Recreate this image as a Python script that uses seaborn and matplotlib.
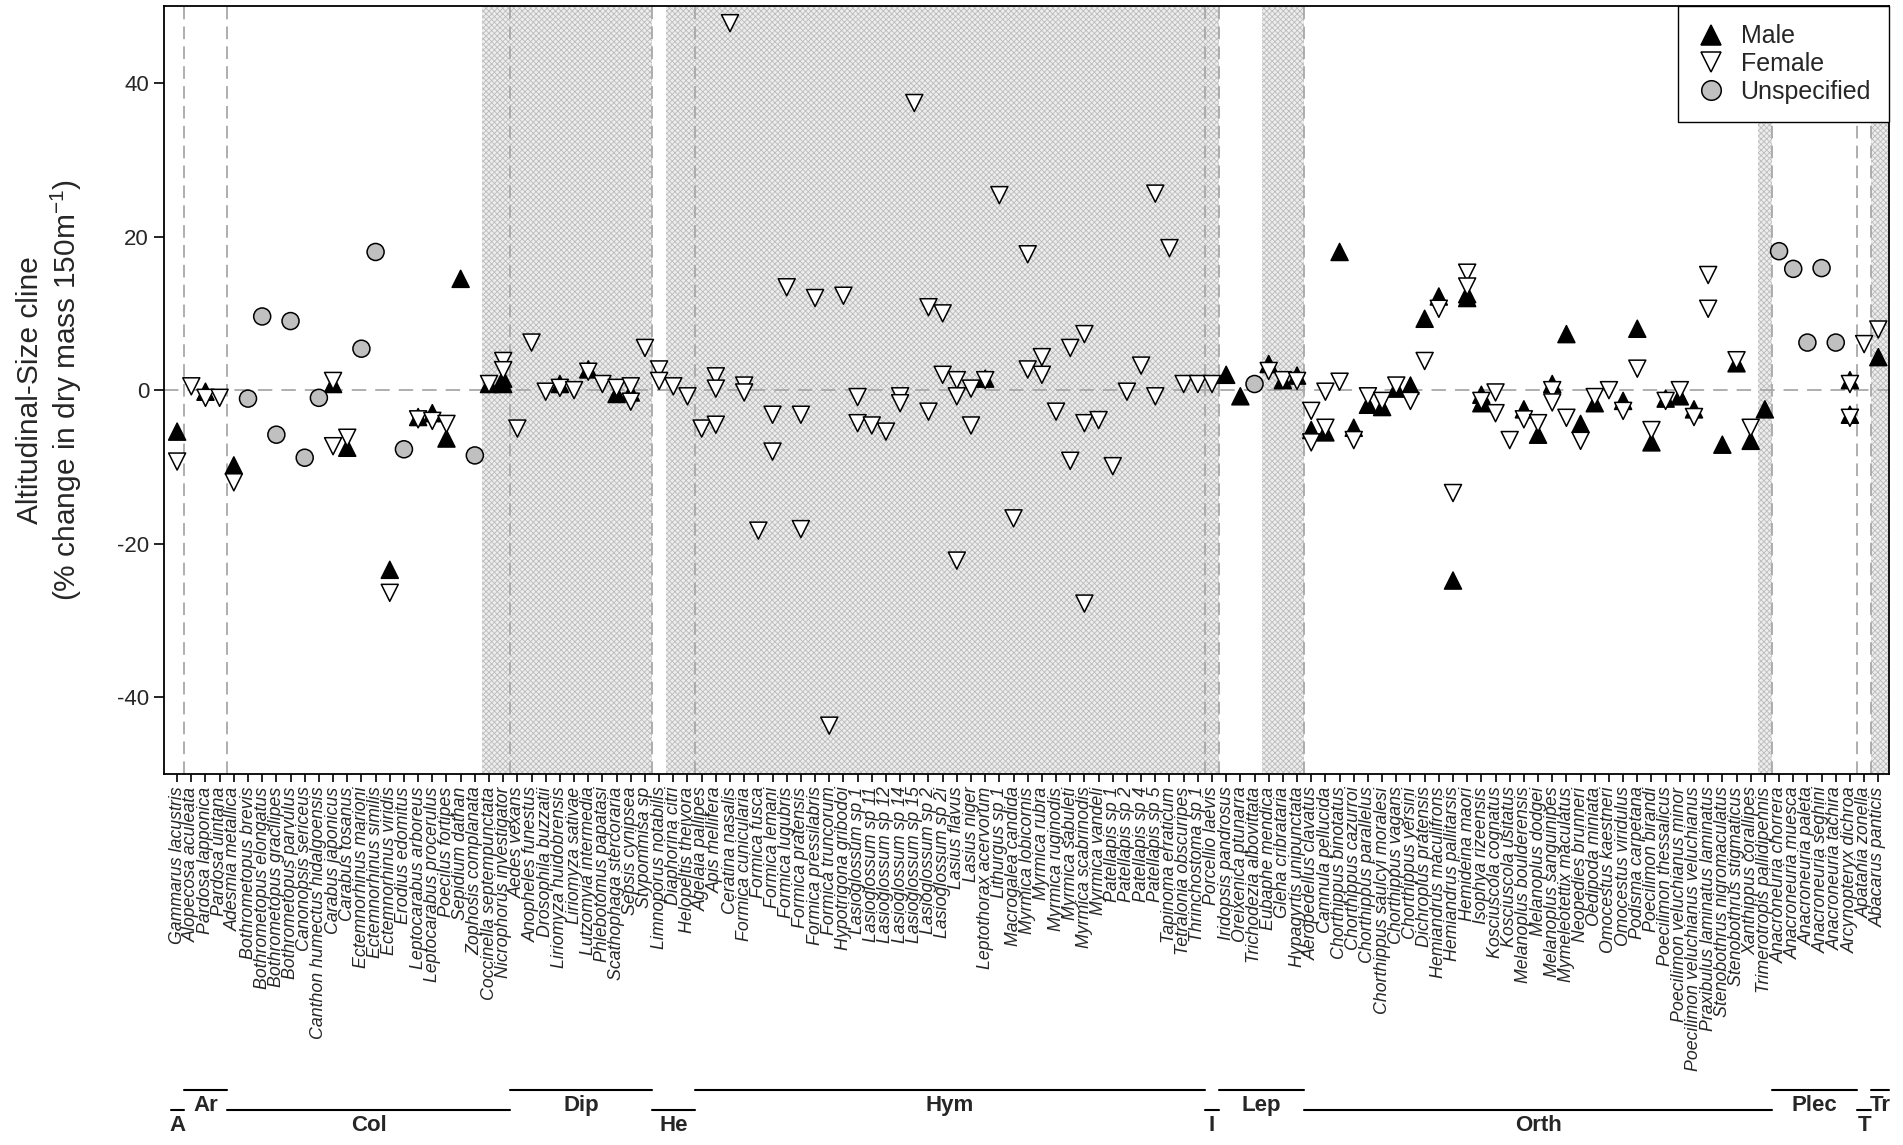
import numpy as np
import pandas as pd
import seaborn as sns
import matplotlib.pyplot as plt
from matplotlib import transforms

# species in plotting order
species = [
    "Gammarus lacustris",
    "Alopecosa aculeata", "Pardosa lapponica", "Pardosa uintana",
    "Adesmia metallica", "Bothrometopus brevis", "Bothrometopus elongatus",
    "Bothrometopus gracilipes", "Bothrometopus parvulus", "Canonopsis sericeus",
    "Canthon humectus hidalgoensis", "Carabus japonicus", "Carabus tosanus",
    "Ectemnorhinus marioni", "Ectemnorhinus similis", "Ectemnorhinus viridis",
    "Erodius edomitus", "Leptocarabus arboreus", "Leptocarabus procerulus",
    "Poecilus fortipes", "Sepidium dathan", "Zophosis complanata",
    "Coccinella septempunctata", "Nicrophorus investigator",
    "Aedes vexans", "Anopheles funestus", "Drosophila buzzatii",
    "Liriomyza huidobrensis", "Liriomyza sativae", "Lutzomyia intermedia",
    "Phlebotomus papatasi", "Scathophaga stercoraria", "Sepsis cynipsea",
    "Stypommisa sp",
    "Limnoporus notabilis", "Diaphorina citri", "Helopeltis theivora",
    "Agelaia pallipes", "Apis mellifera", "Ceratina nasalis",
    "Formica cunicularia", "Formica fusca", "Formica lemani", "Formica lugubris",
    "Formica pratensis", "Formica pressilabris", "Formica truncorum",
    "Hypotrigona gribodoi", "Lasioglossum sp 1", "Lasioglossum sp 11",
    "Lasioglossum sp 12", "Lasioglossum sp 14", "Lasioglossum sp 15",
    "Lasioglossum sp 2", "Lasioglossum sp 2i", "Lasius flavus", "Lasius niger",
    "Leptothorax acervorum", "Lithurgus sp 1", "Macrogalea candida",
    "Myrmica lobicornis", "Myrmica rubra", "Myrmica ruginodis",
    "Myrmica sabuleti", "Myrmica scabrinodis", "Myrmica vandeli",
    "Patellapis sp 1", "Patellapis sp 2", "Patellapis sp 4", "Patellapis sp 5",
    "Tapinoma erraticum", "Tetralonia obscuripes", "Thrinchostoma sp 1",
    "Porcellio laevis",
    "Iridopsis pandrosus", "Oreixenica ptunarra", "Trichodezia albovittata",
    "Eubaphe mendica", "Glena cribrataria", "Hypagyrtis unipunctata",
    "Aeropedellus clavatus", "Camnula pellucida", "Chorthippus binotatus",
    "Chorthippus cazurroi", "Chorthippus parallelus",
    "Chorthippus saulcyi moralesi", "Chorthippus vagans", "Chorthippus yersini",
    "Dichroplus pratensis", "Hemiandrus maculifrons", "Hemiandrus pallitarsis",
    "Hemideina maori", "Isophya rizeensis", "Kosciuscola cognatus",
    "Kosciuscola usitatus", "Melanoplus boulderensis", "Melanoplus dodgei",
    "Melanoplus sanguinipes", "Mymeleotettix maculatus", "Neopedies brunneri",
    "Oedipoda miniata", "Omocestus kaestneri", "Omocestus viridulus",
    "Podisma carpetana", "Poecilimon birandi", "Poecilimon thessalicus",
    "Poecilimon veluchianus minor", "Poecilimon veluchianus veluchianus",
    "Praxibulus laminatus laminatus", "Stenobothrus nigromaculatus",
    "Stenobothrus stigmaticus", "Xanthippus corallipes",
    "Trimerotropis pallidipennis",
    "Anacroneuria chorrera", "Anacroneuria muesca", "Anacroneuria paleta",
    "Anacroneuria seghini", "Anacroneuria tachira", "Arcynopteryx dichroa",
    "Apatania zonella",
    "Abacarus panticis",
]

group_names = ["A", "Ar", "Col", "Dip", "He", "Hym", "I", "Lep", "Orth", "Plec", "T", "Tr"]
group_sizes = [1, 3, 20, 10, 3, 36, 1, 6, 33, 6, 1, 1]

# runs of species drawn on a shaded background (first, last)
shaded_runs = [
    ("Coccinella septempunctata", "Stypommisa sp"),
    ("Diaphorina citri", "Porcellio laevis"),
    ("Eubaphe mendica", "Hypagyrtis unipunctata"),
    ("Trimerotropis pallidipennis", "Trimerotropis pallidipennis"),
    ("Abacarus panticis", "Abacarus panticis"),
]

male = [
    ("Gammarus lacustris", -5.4), ("Pardosa lapponica", -0.2),
    ("Adesmia metallica", -9.8), ("Carabus japonicus", 0.8),
    ("Carabus tosanus", -7.5), ("Ectemnorhinus viridis", -23.4),
    ("Leptocarabus arboreus", -3.5), ("Leptocarabus procerulus", -3.0),
    ("Poecilus fortipes", -6.3), ("Sepidium dathan", 14.5),
    ("Coccinella septempunctata", 0.8), ("Nicrophorus investigator", 1.5),
    ("Nicrophorus investigator", 0.8), ("Liriomyza huidobrensis", 0.8),
    ("Lutzomyia intermedia", 2.7), ("Scathophaga stercoraria", -0.5),
    ("Sepsis cynipsea", -0.3), ("Leptothorax acervorum", 1.5),
    ("Iridopsis pandrosus", 2.0), ("Oreixenica ptunarra", -0.8),
    ("Eubaphe mendica", 3.4), ("Glena cribrataria", 1.3),
    ("Hypagyrtis unipunctata", 1.9), ("Aeropedellus clavatus", -5.2),
    ("Camnula pellucida", -5.5), ("Chorthippus binotatus", 18.0),
    ("Chorthippus cazurroi", -4.9), ("Chorthippus parallelus", -1.9),
    ("Chorthippus saulcyi moralesi", -2.2), ("Chorthippus vagans", 0.2),
    ("Chorthippus yersini", 0.6), ("Dichroplus pratensis", 9.3),
    ("Hemiandrus maculifrons", 12.2), ("Hemiandrus pallitarsis", -24.8),
    ("Hemideina maori", 12.5), ("Hemideina maori", 12.0),
    ("Isophya rizeensis", -0.6), ("Isophya rizeensis", -1.7),
    ("Melanoplus boulderensis", -2.5), ("Melanoplus dodgei", -5.8),
    ("Melanoplus sanguinipes", 0.8), ("Mymeleotettix maculatus", 7.3),
    ("Neopedies brunneri", -4.4), ("Oedipoda miniata", -1.7),
    ("Omocestus viridulus", -1.4), ("Podisma carpetana", 8.0),
    ("Poecilimon birandi", -6.8), ("Poecilimon thessalicus", -1.1),
    ("Poecilimon veluchianus minor", -0.8),
    ("Poecilimon veluchianus veluchianus", -2.5),
    ("Stenobothrus nigromaculatus", -7.1), ("Stenobothrus stigmaticus", 3.5),
    ("Xanthippus corallipes", -6.6), ("Trimerotropis pallidipennis", -2.5),
    ("Arcynopteryx dichroa", 1.3), ("Arcynopteryx dichroa", -3.2),
    ("Abacarus panticis", 4.3),
]

female = [
    ("Gammarus lacustris", -9.3), ("Alopecosa aculeata", 0.5),
    ("Pardosa lapponica", -1.0), ("Pardosa uintana", -1.0),
    ("Adesmia metallica", -12.0), ("Carabus japonicus", 1.2),
    ("Carabus japonicus", -7.3), ("Carabus tosanus", -6.2),
    ("Ectemnorhinus viridis", -26.4), ("Leptocarabus arboreus", -3.8),
    ("Leptocarabus procerulus", -4.0), ("Poecilus fortipes", -4.4),
    ("Coccinella septempunctata", 0.8), ("Nicrophorus investigator", 3.8),
    ("Nicrophorus investigator", 2.6), ("Aedes vexans", -5.0),
    ("Anopheles funestus", 6.2), ("Drosophila buzzatii", -0.2),
    ("Liriomyza huidobrensis", 0.3), ("Liriomyza sativae", 0.0),
    ("Lutzomyia intermedia", 2.4), ("Phlebotomus papatasi", 0.8),
    ("Scathophaga stercoraria", 0.3), ("Sepsis cynipsea", 0.5),
    ("Sepsis cynipsea", -1.5), ("Stypommisa sp", 5.5),
    ("Limnoporus notabilis", 2.7), ("Limnoporus notabilis", 1.2),
    ("Diaphorina citri", 0.5), ("Helopeltis theivora", -0.8),
    ("Agelaia pallipes", -5.0), ("Apis mellifera", 1.8),
    ("Apis mellifera", 0.2), ("Apis mellifera", -4.5),
    ("Ceratina nasalis", 47.8), ("Formica cunicularia", 0.6),
    ("Formica cunicularia", -0.3), ("Formica fusca", -18.3),
    ("Formica lemani", -3.2), ("Formica lemani", -8.0),
    ("Formica lugubris", 13.4), ("Formica pratensis", -3.2),
    ("Formica pratensis", -18.1), ("Formica pressilabris", 12.0),
    ("Formica truncorum", -43.7), ("Hypotrigona gribodoi", 12.3),
    ("Lasioglossum sp 1", -0.9), ("Lasioglossum sp 1", -4.3),
    ("Lasioglossum sp 11", -4.6), ("Lasioglossum sp 12", -5.4),
    ("Lasioglossum sp 14", -0.8), ("Lasioglossum sp 14", -1.7),
    ("Lasioglossum sp 15", 37.4), ("Lasioglossum sp 2", 10.8),
    ("Lasioglossum sp 2", -2.8), ("Lasioglossum sp 2i", 10.0),
    ("Lasioglossum sp 2i", 2.0), ("Lasius flavus", 1.3),
    ("Lasius flavus", -0.8), ("Lasius flavus", -22.2),
    ("Lasius niger", 0.2), ("Lasius niger", -4.6),
    ("Leptothorax acervorum", 1.3), ("Lithurgus sp 1", 25.4),
    ("Macrogalea candida", -16.7), ("Myrmica lobicornis", 17.7),
    ("Myrmica lobicornis", 2.7), ("Myrmica rubra", 4.3),
    ("Myrmica rubra", 2.0), ("Myrmica ruginodis", -2.8),
    ("Myrmica sabuleti", 5.5), ("Myrmica sabuleti", -9.2),
    ("Myrmica scabrinodis", 7.3), ("Myrmica scabrinodis", -4.3),
    ("Myrmica scabrinodis", -27.8), ("Myrmica vandeli", -3.9),
    ("Patellapis sp 1", -9.9), ("Patellapis sp 2", -0.2),
    ("Patellapis sp 4", 3.2), ("Patellapis sp 5", 25.6),
    ("Patellapis sp 5", -0.8), ("Tapinoma erraticum", 18.5),
    ("Tetralonia obscuripes", 0.8), ("Thrinchostoma sp 1", 0.8),
    ("Porcellio laevis", 0.8), ("Eubaphe mendica", 2.5),
    ("Glena cribrataria", 1.3), ("Hypagyrtis unipunctata", 1.2),
    ("Aeropedellus clavatus", -2.7), ("Aeropedellus clavatus", -6.8),
    ("Camnula pellucida", -0.2), ("Camnula pellucida", -4.9),
    ("Chorthippus binotatus", 1.1), ("Chorthippus cazurroi", -6.5),
    ("Chorthippus parallelus", -0.8), ("Chorthippus saulcyi moralesi", -1.4),
    ("Chorthippus vagans", 0.6), ("Chorthippus yersini", -1.4),
    ("Dichroplus pratensis", 3.8), ("Hemiandrus maculifrons", 10.6),
    ("Hemiandrus pallitarsis", -13.4), ("Hemideina maori", 15.3),
    ("Hemideina maori", 13.5), ("Isophya rizeensis", -1.4),
    ("Kosciuscola cognatus", -0.3), ("Kosciuscola cognatus", -3.0),
    ("Kosciuscola usitatus", -6.5), ("Melanoplus boulderensis", -3.8),
    ("Melanoplus dodgei", -4.3), ("Melanoplus sanguinipes", 0.0),
    ("Melanoplus sanguinipes", -1.6), ("Mymeleotettix maculatus", -3.6),
    ("Neopedies brunneri", -6.6), ("Oedipoda miniata", -0.9),
    ("Omocestus kaestneri", 0.0), ("Omocestus viridulus", -2.7),
    ("Podisma carpetana", 2.8), ("Poecilimon birandi", -5.2),
    ("Poecilimon thessalicus", -1.4), ("Poecilimon veluchianus minor", 0.0),
    ("Poecilimon veluchianus veluchianus", -3.5),
    ("Praxibulus laminatus laminatus", 15.0),
    ("Praxibulus laminatus laminatus", 10.6),
    ("Stenobothrus stigmaticus", 3.9), ("Xanthippus corallipes", -4.9),
    ("Arcynopteryx dichroa", 0.8), ("Arcynopteryx dichroa", -3.6),
    ("Apatania zonella", 6.0), ("Abacarus panticis", 7.9),
]

unspecified = [
    ("Bothrometopus brevis", -1.1), ("Bothrometopus elongatus", 9.6),
    ("Bothrometopus gracilipes", -5.8), ("Bothrometopus parvulus", 9.0),
    ("Canonopsis sericeus", -8.8), ("Canthon humectus hidalgoensis", -1.0),
    ("Ectemnorhinus marioni", 5.4), ("Ectemnorhinus similis", 18.0),
    ("Erodius edomitus", -7.7), ("Zophosis complanata", -8.5),
    ("Trichodezia albovittata", 0.8), ("Anacroneuria chorrera", 18.1),
    ("Anacroneuria muesca", 15.8), ("Anacroneuria paleta", 6.2),
    ("Anacroneuria seghini", 15.9), ("Anacroneuria tachira", 6.2),
]

rows = []
for sex, pts in (("Male", male), ("Female", female), ("Unspecified", unspecified)):
    for sp, v in pts:
        rows.append({"species": sp, "sex": sex, "value": v})
df = pd.DataFrame(rows)
pos = {sp: i for i, sp in enumerate(species)}
df["x"] = df["species"].map(pos)

sns.set_theme(style="ticks")
plt.rcParams["font.family"] = ["Liberation Sans", "DejaVu Sans"]
plt.rcParams["mathtext.default"] = "regular"
plt.rcParams["axes.unicode_minus"] = False
plt.rcParams["hatch.linewidth"] = 0.6

fig = plt.figure(figsize=(19.03, 11.45), dpi=100)
ax = fig.add_axes([0.086, 0.324, 0.9066, 0.6705])
xmin, xmax = -0.95, 120.75

# shaded backgrounds
for a, b in shaded_runs:
    lo = pos[a] - 0.5
    hi = pos[b] + 0.5 if pos[b] < len(species) - 1 else xmax
    ax.axvspan(lo, hi, facecolor="#ededed", edgecolor="#bcbcbc",
               hatch="xxxxxx", lw=0, zorder=0)

# group boundaries
edges = np.cumsum([0] + group_sizes) - 0.5
for e in edges[1:-1]:
    ax.axvline(e, color="#a8a8a8", ls=(0, (7, 4)), lw=1.3, zorder=1)
ax.axhline(0, color="#a8a8a8", ls=(0, (8, 5)), lw=1.3, zorder=1)

sns.scatterplot(
    data=df, x="x", y="value", hue="sex", style="sex",
    hue_order=["Male", "Female", "Unspecified"],
    style_order=["Male", "Female", "Unspecified"],
    markers={"Male": "^", "Female": "v", "Unspecified": "o"},
    palette={"Male": "black", "Female": "white", "Unspecified": "#c0c0c0"},
    edgecolor="black", linewidth=1.1, s=150, ax=ax, zorder=3,
)

ax.set_xlim(xmin, xmax)
ax.set_ylim(-50, 50)
ax.set_xticks(range(len(species)))
ax.set_xticklabels(species, rotation=90, fontstyle="italic", fontsize=12.8)
ax.set_yticks([-40, -20, 0, 20, 40])
ax.tick_params(axis="y", labelsize=16, length=7, width=1.2, color="black")
ax.tick_params(axis="x", length=6, width=1.2, color="black", pad=3)
for sp in ax.spines.values():
    sp.set_color("black")
    sp.set_linewidth(1.3)
ax.set_xlabel("")
ax.set_ylabel("Altitudinal-Size cline\n(% change in dry mass 150m$^{-1}$)",
              fontsize=21.5, linespacing=1.2)
ax.yaxis.set_label_coords(-0.046, 0.5)

sns.move_legend(ax, "upper right", title=None, frameon=True, fontsize=18,
                borderaxespad=0, fancybox=False, edgecolor="black",
                framealpha=1, labelspacing=0.15, handletextpad=0.6,
                handlelength=1.2, markerscale=1.15, borderpad=0.72)
ax.get_legend().get_frame().set_linewidth(1.0)

# order bars under the labels
trans = transforms.blended_transform_factory(ax.transData, ax.transAxes)
for k, name in enumerate(group_names):
    a = edges[k] if k > 0 else -0.45
    b = edges[k + 1] if k < len(group_names) - 1 else xmax
    yb = -0.4115 if k % 2 == 1 else -0.438
    ax.plot([a, b], [yb, yb], color="black", lw=1.5, transform=trans,
            clip_on=False)
    ax.text((a + b) / 2, yb - 0.006, name, ha="center", va="top",
            fontweight="bold", fontsize=16, transform=trans)

fig.savefig("out.png", dpi=100)
